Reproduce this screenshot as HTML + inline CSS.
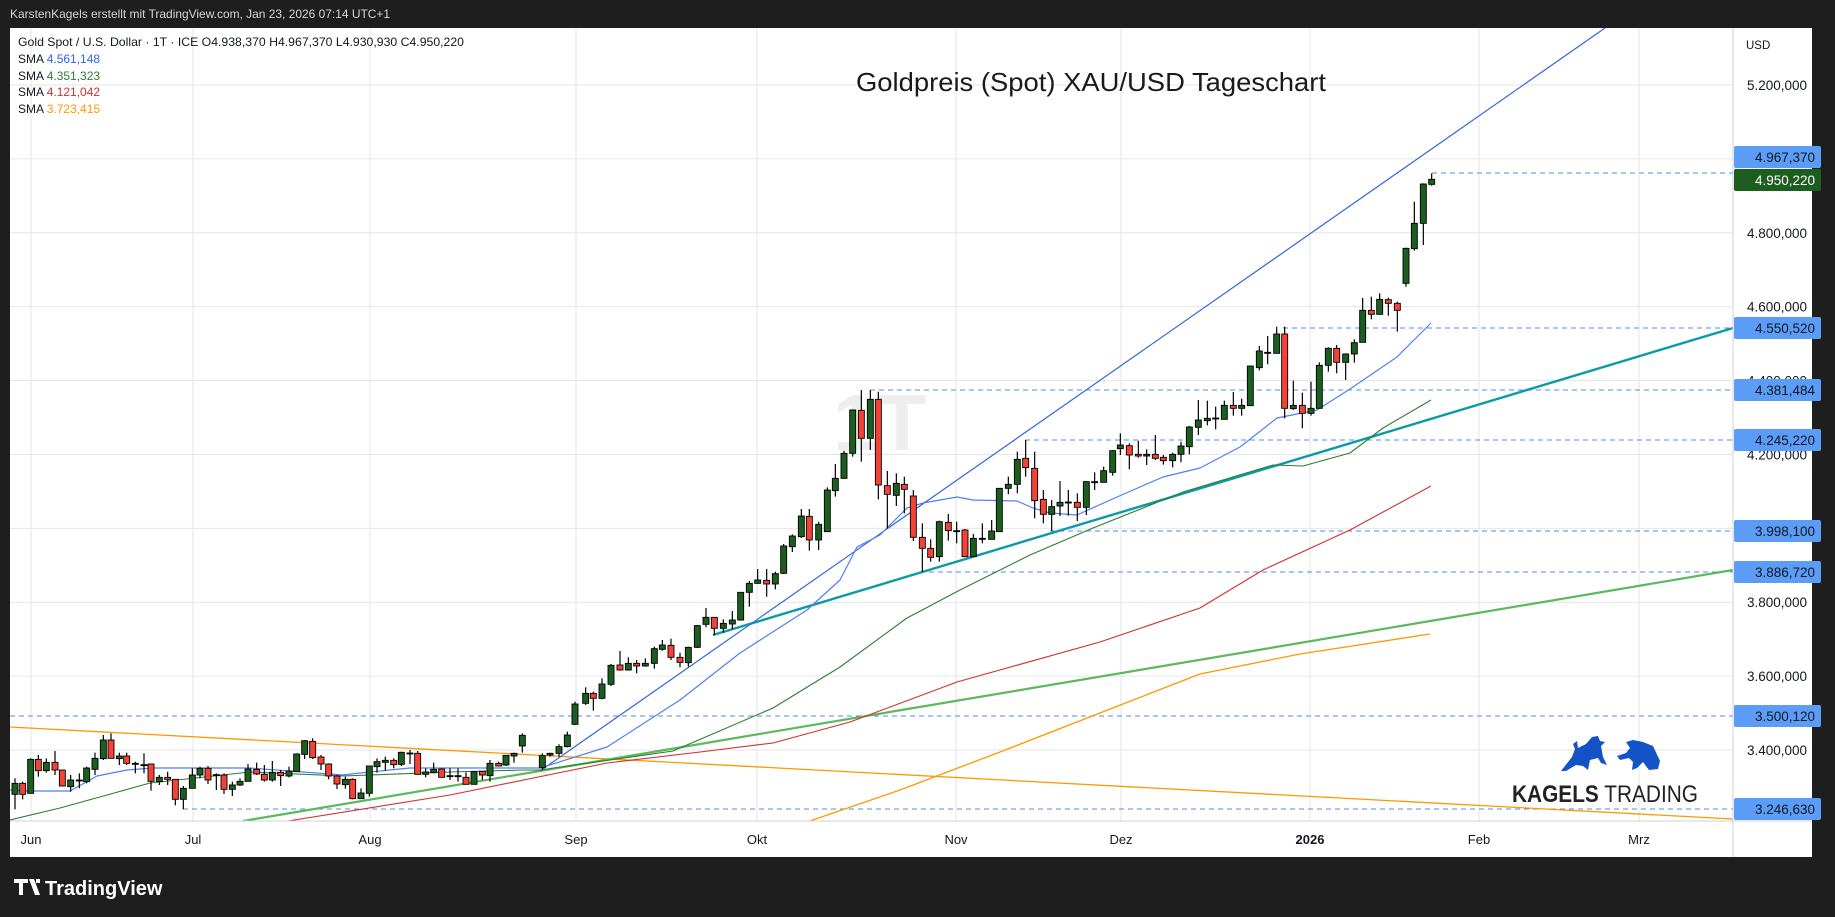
<!DOCTYPE html>
<html><head><meta charset="utf-8"><style>
body{margin:0;width:1835px;height:917px;background:#1e1e1e;overflow:hidden;font-family:"Liberation Sans","DejaVu Sans",sans-serif}
svg{position:absolute;left:0;top:0}
</style></head><body>
<svg id="s" width="1835" height="917" xmlns="http://www.w3.org/2000/svg">
<rect x="0" y="0" width="1835" height="917" fill="#1e1e1e"/>
<text x="10" y="18" font-size="12" fill="#d6d6d6" textLength="380" lengthAdjust="spacingAndGlyphs">KarstenKagels erstellt mit TradingView.com, Jan 23, 2026 07:14 UTC+1</text>
<rect x="10" y="28" width="1802" height="829" fill="#ffffff"/>
<g id="grid" stroke="#e6e6e6" stroke-width="1"></g>
<text x="1091" y="91" font-size="26" fill="#1a1a1a" text-anchor="middle" textLength="470" lengthAdjust="spacingAndGlyphs">Goldpreis (Spot) XAU/USD Tageschart</text>
<text x="833" y="450" font-size="80" font-weight="bold" fill="#eeeeee">1T</text>
<defs><clipPath id="cp"><rect x="10" y="28" width="1723" height="793"/></clipPath></defs>
<g clip-path="url(#cp)" id="plot"></g>
<line x1="1733" y1="28" x2="1733" y2="857" stroke="#d0d0d8"/>
<line x1="10" y1="821" x2="1812" y2="821" stroke="#d0d0d8"/>
<g id="axis"></g>
<g font-size="12" fill="#131722">
<text x="18" y="46" textLength="446" lengthAdjust="spacingAndGlyphs">Gold Spot / U.S. Dollar · 1T · ICE  O4.938,370  H4.967,370  L4.930,930  C4.950,220</text>
<text x="18" y="63">SMA <tspan fill="#2962ff">4.561,148</tspan></text>
<text x="18" y="80">SMA <tspan fill="#2e7d32">4.351,323</tspan></text>
<text x="18" y="96">SMA <tspan fill="#d32f2f">4.121,042</tspan></text>
<text x="18" y="113">SMA <tspan fill="#ff9800">3.723,415</tspan></text>
</g>
<text x="1746" y="49" font-size="11.5" fill="#131722">USD</text>
<g fill="#1452c8">
<polygon points="1561,771 1572,757 1575,749 1573,744 1577,741 1578,748 1586,744 1592,737 1598,736 1600,741 1605,742 1601,746 1603,757 1607,765 1601,763 1598,758 1590,760 1588,770 1583,766 1576,765 1566,771"/>
<polygon points="1617,756 1626,753 1630,748 1626,742 1633,740 1643,742 1653,746 1660,761 1658,769 1649,770 1643,762 1637,768 1632,770 1633,762 1629,758 1620,760"/>
</g>
<text x="1512" y="802" font-size="24" fill="#222" textLength="186" lengthAdjust="spacingAndGlyphs"><tspan font-weight="bold">KAGELS</tspan> TRADING</text>
<g fill="#ffffff">
<path d="M14 879 h14 v4 h-5 v12 h-4 v-12 h-5z M29 879 h5 l6 16 h-5z M36 879 h4 v4 h-4z"/>
</g>
<text x="45" y="895" font-size="20" font-weight="bold" fill="#ffffff">TradingView</text>
</svg>
<script>
const NS="http://www.w3.org/2000/svg";
function el(p,t,a){const e=document.createElementNS(NS,t);for(const k in a)e.setAttribute(k,a[k]);p.appendChild(e);return e;}
const grid=document.getElementById('grid'),plot=document.getElementById('plot'),axis=document.getElementById('axis');
const Y=p=>85+(5200-p)*0.36944;
for(let p=5200;p>=3400;p-=200){el(grid,'line',{x1:10,x2:1733,y1:Y(p),y2:Y(p)});}
const vx=[31,193,370,576,757,956,1121,1310,1479,1639],ml=['Jun','Jul','Aug','Sep','Okt','Nov','Dez','2026','Feb','Mrz'];
vx.forEach((x,i)=>{el(grid,'line',{x1:x,x2:x,y1:28,y2:821});const t=el(axis,'text',{x:x,y:844,'font-size':13,'text-anchor':'middle',fill:'#131722'});if(i==7)t.setAttribute('font-weight','bold');t.textContent=ml[i];});
[[5200,'5.200,000'],[4800,'4.800,000'],[4600,'4.600,000'],[4400,'4.400,000'],[4200,'4.200,000'],[3800,'3.800,000'],[3600,'3.600,000'],[3400,'3.400,000']].forEach(a=>{const t=el(axis,'text',{x:1807,y:Y(a[0])+5,'font-size':13.5,'text-anchor':'end',fill:'#131722'});t.textContent=a[1];});
function pl(pts,c,w){el(plot,'polyline',{points:pts.map(p=>p.join(',')).join(' '),fill:'none',stroke:c,'stroke-width':w,'stroke-linejoin':'round'});}
[[173,1432],[328,1283],[390,870],[440,1025],[531,1050],[572,920],[716,10],[809,183]].forEach(a=>el(plot,'line',{x1:a[1],x2:1733,y1:a[0],y2:a[0],stroke:'#4a8cf0','stroke-width':1,'stroke-dasharray':'5,4'}));
pl([[10,727],[1733,819]],'#ff9800',1.3);
pl([[243,821],[1733,570]],'#5cb85c',2.2);
pl([[713,635],[1733,328]],'#0a9aa8',2.4);
pl([[540,771],[1605,28]],'#3366dd',1.2);
pl([[807,822],[900,790],[1000,752],[1100,713],[1200,674],[1300,654],[1430,634]],'#ff9800',1.3);
pl([[288,821],[450,795],[607,763],[700,752],[773,743],[850,722],[957,682],[1100,642],[1200,608],[1263,570],[1350,530],[1431,486]],'#d32f2f',1.1);
pl([[10,820],[60,808],[107,795],[150,783],[250,772],[343,776],[450,772],[523,770],[540,770],[673,751],[773,708],[840,667],[907,618],[960,590],[1000,570],[1030,555],[1093,528],[1183,492],[1273,465],[1303,466],[1350,453],[1383,428],[1431,400]],'#2e7d32',1.1);
pl([[10,790],[30,791],[70,791],[97,776],[127,770],[153,768],[250,768],[343,775],[360,773],[410,768],[523,768],[540,768],[607,747],[680,700],[740,653],[807,610],[840,580],[857,547],[880,535],[907,508],[923,503],[957,497],[973,500],[1017,501],[1033,508],[1050,513],[1077,515],[1117,497],[1163,477],[1200,468],[1240,447],[1277,418],[1317,410],[1350,389],[1397,357],[1431,323]],'#4f7ff5',1.2);
function seg(ox,oy,L){L.forEach(c=>{const x=ox+c[0]/3,wt=oy+c[1]/3,bt=oy+c[2]/3,bb=oy+c[3]/3,wb=oy+c[4]/3;
el(plot,'line',{x1:x,x2:x,y1:wt,y2:wb,stroke:'#000','stroke-width':1.2});
el(plot,'rect',{x:x-3,y:bt,width:6,height:Math.max(bb-bt,1),fill:c[5]=='R'?'#f44336':'#1b5e20',stroke:'#000','stroke-width':0.9});});}
seg(10,640,[[15,415,430,463,508,'G'],[38,425,430,463,478,'R'],[62,355,358,460,460,'G'],[85,345,358,392,410,'R'],[109,355,367,392,398,'G'],[135,333,367,390,405,'R'],[157,390,390,438,438,'R'],[182,405,420,440,455,'G'],[208,400,420,421,445,'G'],[230,380,384,425,430,'G'],[255,338,355,388,405,'G'],[280,285,300,356,360,'G'],[303,280,300,355,355,'R'],[328,338,348,356,375,'G'],[350,338,348,370,375,'R'],[376,365,370,372,400,'G'],[402,340,374,376,400,'G'],[423,372,372,424,452,'R'],[448,405,412,425,435,'G'],[473,395,412,418,435,'R'],[496,418,418,478,496,'R'],[520,438,445,478,508,'G'],[547,385,405,445,445,'G'],[570,380,385,405,415,'G'],[594,378,385,420,432,'R'],[619,400,404,406,450,'G'],[642,400,405,448,462,'R'],[667,425,435,448,468,'G'],[690,415,424,435,438,'G'],[714,372,387,424,424,'G'],[740,368,388,402,405,'R'],[763,375,403,420,425,'R'],[787,363,397,420,425,'G'],[812,390,397,407,438,'R'],[837,380,393,408,412,'G'],[860,340,342,395,395,'G'],[884,300,302,343,357,'G'],[908,295,304,353,357,'R'],[933,345,351,372,390,'R'],[956,370,372,408,418,'R'],[981,405,408,432,447,'R'],[1006,410,418,434,446,'G'],[1028,415,418,476,478,'R'],[1053,445,459,476,476,'G'],[1078,378,378,460,470,'G'],[1101,355,365,380,398,'G'],[1126,350,361,367,392,'G'],[1151,355,361,374,385,'R'],[1174,335,337,373,378,'G'],[1200,330,339,341,372,'G'],[1223,333,340,403,403,'R'],[1247,385,396,403,412,'G'],[1271,368,388,398,400,'G'],[1295,385,387,412,412,'R'],[1320,385,407,409,420,'G'],[1344,385,407,409,425,'G'],[1368,397,412,433,433,'R'],[1392,393,395,433,433,'G'],[1417,393,394,405,420,'R'],[1440,360,370,407,425,'G'],[1466,365,370,378,378,'R'],[1488,345,346,375,378,'G'],[1512,338,340,348,368,'G'],[1537,280,286,318,338,'G']]);
seg(540,380,[[7,1120,1127,1163,1170,'G'],[30,1118,1120,1125,1130,'G'],[57,1093,1100,1120,1130,'G'],[82,1055,1065,1100,1102,'G'],[105,965,972,1033,1035,'G'],[137,922,940,970,975,'G'],[160,935,940,955,992,'R'],[186,895,912,955,958,'G'],[213,852,856,913,918,'G'],[240,813,855,870,872,'R'],[265,832,850,870,872,'G'],[290,840,850,858,880,'R'],[316,835,850,858,860,'G'],[343,800,806,850,866,'G'],[367,780,795,808,812,'G'],[393,776,796,832,840,'R'],[420,818,832,847,862,'R'],[445,800,802,848,860,'G'],[472,735,737,802,804,'G'],[498,684,712,733,742,'G'],[523,712,712,745,765,'R'],[550,718,730,745,758,'G'],[577,693,720,732,748,'G'],[602,636,637,720,722,'G'],[628,603,610,637,680,'G'],[653,567,600,610,612,'G'],[680,567,601,612,650,'R'],[706,575,581,612,628,'G'],[731,492,498,580,582,'G'],[757,463,468,500,516,'G'],[784,387,408,470,474,'G'],[808,387,409,480,512,'R'],[836,425,433,480,510,'G'],[862,322,330,455,455,'G'],[886,252,295,332,350,'G'],[912,212,220,295,297,'G'],[938,88,90,220,230,'G'],[964,30,91,175,245,'R'],[991,30,58,175,210,'G'],[1015,35,58,315,358,'R'],[1042,273,317,343,445,'R'],[1069,280,310,346,378,'G'],[1093,290,313,328,400,'R'],[1120,330,348,472,483,'R'],[1147,430,472,505,576,'R'],[1172,478,505,532,545,'R'],[1198,422,425,530,545,'G'],[1225,402,427,452,482,'R'],[1250,425,452,454,490,'G']]);
seg(950,150,[[45,1137,1140,1220,1220,'R'],[70,1152,1165,1220,1220,'G'],[97,1120,1165,1168,1180,'G'],[125,1110,1143,1168,1168,'G'],[148,1015,1015,1145,1145,'G'],[175,980,1003,1015,1033,'G'],[202,905,928,1003,1030,'G'],[227,870,925,953,980,'R'],[254,905,955,1052,1105,'R'],[280,1020,1048,1093,1120,'R'],[305,1050,1070,1093,1143,'G'],[330,993,1057,1068,1098,'G'],[355,1020,1056,1058,1097,'G'],[382,1030,1057,1072,1113,'R'],[409,993,995,1072,1095,'G'],[434,967,995,997,1020,'G'],[461,950,962,997,997,'G'],[488,900,902,967,977,'G'],[511,850,885,896,915,'G'],[538,880,887,915,958,'R'],[565,872,913,918,923,'R'],[590,898,913,918,945,'G'],[616,855,913,925,930,'R'],[640,915,922,932,944,'R'],[668,908,913,932,952,'G'],[693,875,888,913,937,'G'],[718,828,831,890,913,'G'],[745,750,810,832,855,'G'],[772,752,805,812,826,'G'],[797,770,804,807,838,'G'],[823,752,766,808,808,'G'],[850,726,766,775,797,'R'],[875,746,766,775,797,'G'],[901,648,648,767,767,'G'],[928,588,603,653,661,'G'],[953,558,607,610,643,'G'],[980,530,552,610,610,'G'],[1004,530,552,775,805,'R'],[1030,692,766,776,780,'G'],[1057,728,766,790,835,'R'],[1083,695,775,790,797,'G'],[1108,637,646,775,775,'G'],[1135,592,595,646,665,'G'],[1160,585,595,637,670,'R'],[1187,610,612,637,690,'G'],[1213,568,578,612,638,'G'],[1238,444,481,577,577,'G'],[1264,440,481,493,508,'R'],[1289,430,448,493,493,'G'],[1315,443,449,460,497,'R'],[1342,455,460,481,545,'R'],[1368,293,295,400,410,'G'],[1393,155,220,296,302,'G'],[1420,100,102,220,285,'G'],[1445,70,88,103,107,'G']]);
[[157,'4.967,370','#5b9cf6','#131722'],[180,'4.950,220','#1b5e20','#ffffff'],[328,'4.550,520','#5b9cf6','#131722'],[390,'4.381,484','#5b9cf6','#131722'],[440,'4.245,220','#5b9cf6','#131722'],[531,'3.998,100','#5b9cf6','#131722'],[572,'3.886,720','#5b9cf6','#131722'],[716,'3.500,120','#5b9cf6','#131722'],[809,'3.246,630','#5b9cf6','#131722']].forEach(a=>{
el(axis,'rect',{x:1734,y:a[0]-11,width:87,height:22,rx:2,fill:a[2]});
const t=el(axis,'text',{x:1815,y:a[0]+5,'font-size':13.5,'text-anchor':'end',fill:a[3]});t.textContent=a[1];});
</script>
</body></html>
